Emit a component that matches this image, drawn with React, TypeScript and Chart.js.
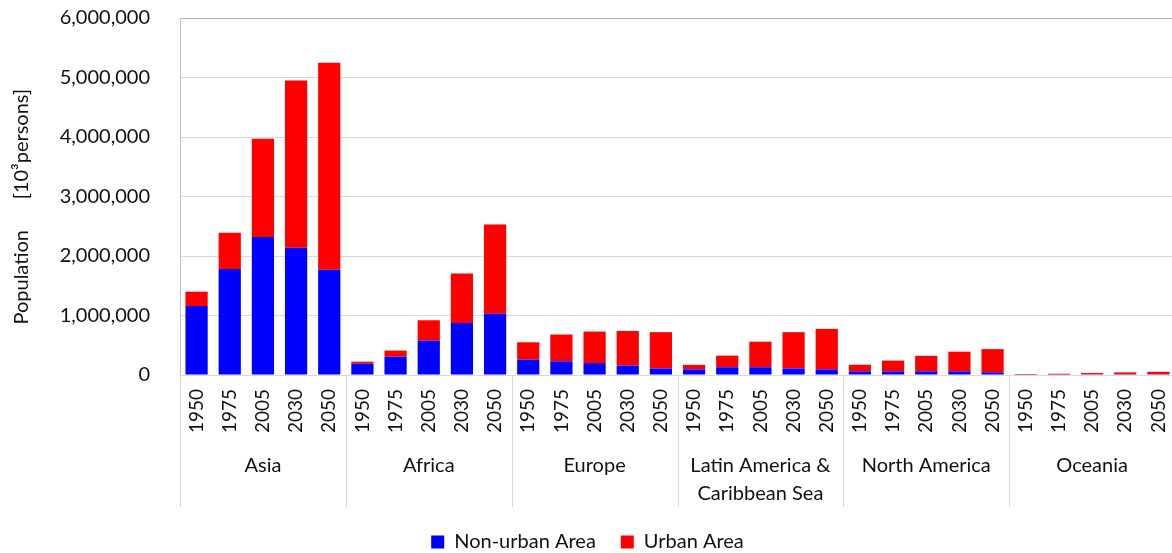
import React, { useEffect, useRef } from "react";
import { Chart, registerables } from "chart.js";

Chart.register(...registerables);

const groups: (string | string[])[] = [
  "Asia",
  "Africa",
  "Europe",
  ["Latin America &", "Caribbean Sea"],
  "North America",
  "Oceania",
];
const years = ["1950", "1975", "2005", "2030", "2050"];

const nonUrban = [
  1160000, 1780000, 2320000, 2140000, 1770000,
  190000, 310000, 580000, 875000, 1030000,
  260000, 230000, 200000, 160000, 110000,
  95000, 130000, 130000, 110000, 95000,
  62000, 62000, 62000, 62000, 45000,
  5000, 7000, 10000, 12000, 13000,
];
const urban = [
  240000, 610000, 1650000, 2810000, 3480000,
  34000, 100000, 340000, 830000, 1500000,
  290000, 450000, 530000, 580000, 610000,
  75000, 195000, 430000, 610000, 680000,
  110000, 180000, 260000, 330000, 390000,
  8000, 14000, 23000, 31000, 40000,
];
const yTicks = [0, 1000000, 2000000, 3000000, 4000000, 5000000, 6000000];

const FONT = "Lato";
const TEXT = "#111111";

const separators = {
  id: "groupSeparators",
  afterDraw(chart: any) {
    const x = chart.scales.x;
    const x2 = chart.scales.x2;
    const ctx = chart.ctx;
    const top = chart.chartArea.bottom;
    const bottom = x2.bottom;
    ctx.save();
    ctx.strokeStyle = "#d9d9d9";
    ctx.lineWidth = 1;
    for (let g = 0; g <= groups.length; g++) {
      const px = Math.round(x.getPixelForValue(g * years.length - 0.5)) + 0.5;
      ctx.beginPath();
      ctx.moveTo(px, top);
      ctx.lineTo(px, bottom);
      ctx.stroke();
    }
    ctx.restore();
  },
};

export default function App() {
  const ref = useRef<HTMLCanvasElement | null>(null);
  useEffect(() => {
    if (!ref.current) return;
    const labels: string[] = [];
    groups.forEach(() => years.forEach((y) => labels.push(y)));
    const chart = new Chart(ref.current, {
      type: "bar",
      data: {
        labels,
        datasets: [
          {
            label: "Non-urban Area",
            data: nonUrban,
            backgroundColor: "#0000ff",
            borderWidth: 0,
            categoryPercentage: 1,
            barPercentage: 0.67,
          },
          {
            label: "Urban Area",
            data: urban,
            backgroundColor: "#ff0000",
            borderWidth: 0,
            categoryPercentage: 1,
            barPercentage: 0.67,
          },
        ],
      },
      options: {
        responsive: false,
        animation: false,
        layout: { padding: { top: 18, right: 0, bottom: 0, left: 0 } },
        plugins: {
          tooltip: { enabled: false },
          legend: {
            position: "bottom",
            labels: {
              boxWidth: 13,
              boxHeight: 13,
              padding: 25,
              color: TEXT,
              font: { family: FONT, size: 20 },
            },
          },
        },
        scales: {
          x: {
            stacked: true,
            weight: 0,
            grid: { display: false, drawTicks: false },
            border: { display: false },
            ticks: {
              color: TEXT,
              font: { family: FONT, size: 19 },
              maxRotation: 90,
              minRotation: 90,
              padding: 14,
              autoSkip: false,
            },
            afterFit: (s: any) => {
              s.height = 72;
              s.paddingLeft = 0;
              s.paddingRight = 0;
            },
          },
          x2: {
            type: "category",
            labels: groups as any,
            position: "bottom",
            weight: 1,
            grid: { display: false, drawTicks: false },
            border: { display: false },
            ticks: {
              color: TEXT,
              font: { family: FONT, size: 20, lineHeight: 1.4 },
              maxRotation: 0,
              minRotation: 0,
              padding: 5,
              autoSkip: false,
            },
            afterFit: (s: any) => {
              s.height = 60;
              s.paddingLeft = 0;
              s.paddingRight = 0;
            },
          },
          y: {
            stacked: true,
            min: 0,
            max: 6000000,
            grid: {
              drawTicks: false,
              color: (c: any) => (c.tick && c.tick.value === 6000000 ? "#b0b0b0" : "#d9d9d9"),
            },
            border: { display: true, color: "#c0c0c0" },
            afterBuildTicks: (s: any) => {
              s.ticks = yTicks.map((v) => ({ value: v }));
            },
            ticks: {
              color: TEXT,
              font: { family: FONT, size: 20 },
              padding: 30,
              callback: (v: any) => Number(v).toLocaleString("en-US"),
            },
            title: {
              display: true,
              text: "Population      [10\u00B3persons]    ",
              color: TEXT,
              font: { family: FONT, size: 20 },
              padding: { top: 10, bottom: 0 },
            },
            afterFit: (s: any) => {
              s.width = 180;
              s.paddingTop = 0;
              s.paddingBottom = 0;
            },
          },
        },
      },
      plugins: [separators],
    });
    return () => chart.destroy();
  }, []);
  return (
    <div
      style={{
        position: "fixed",
        left: 0,
        top: 0,
        width: 1172,
        height: 553,
        overflow: "hidden",
        background: "#fff",
      }}
    >
      <canvas ref={ref} width={1175} height={562} style={{ display: "block" }} />
    </div>
  );
}
